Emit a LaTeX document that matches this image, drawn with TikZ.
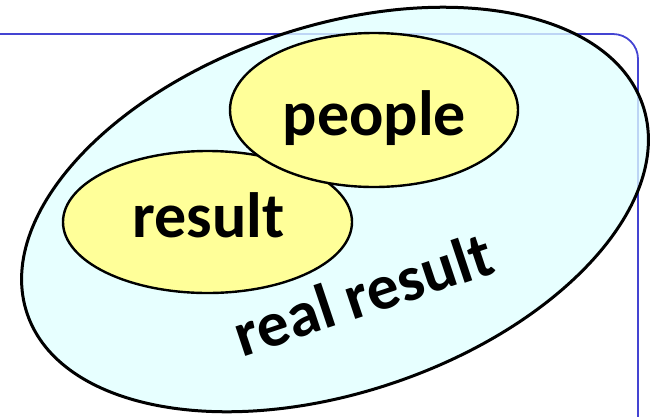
\documentclass[tikz,border=0pt]{standalone}
\usepackage{fontspec}
\setmainfont{Carlito}
\usetikzlibrary{shapes.geometric}
\definecolor{framecol}{RGB}{68,68,210}
\definecolor{cyanfill}{RGB}{224,255,255}
\definecolor{yelfill}{RGB}{255,255,153}
\tikzset{
  setell/.style={ellipse, draw=black, inner sep=0pt},
  bigset/.style={setell, line width=3pt, fill=cyanfill, fill opacity=0.78},
  smallset/.style={setell, line width=2.4pt, fill=yelfill},
  lbl/.style={inner sep=0pt, anchor=base, font=\fontsize{64}{70}\selectfont\bfseries},
  framel/.style={draw=framecol, line width=1.8pt, rounded corners=25pt}
}
\begin{document}
\begin{tikzpicture}[x=1pt,y=1pt]
\useasboundingbox (0,0) rectangle (650,-416);
\coordinate (fs) at (-10,-34);
\coordinate (fe) at (638,-430);
\draw[framel] (fs) -| (fe);
\node[bigset, rotate=18.7, minimum width=650pt, minimum height=366pt] (real) at (335,-209.5) {};
\node[smallset, minimum width=289pt, minimum height=142pt] (result) at (207.5,-222) {};
\node[smallset, minimum width=288pt, minimum height=154pt] (people) at (374,-110) {};
\node[lbl] (peopletxt) at (374.5,-135) {people};
\node[lbl] (resulttxt) at (208.5,-237) {result};
\node[lbl, rotate=18.5] (realtxt) at (370,-314.5) {real result};
\end{tikzpicture}
\end{document}
